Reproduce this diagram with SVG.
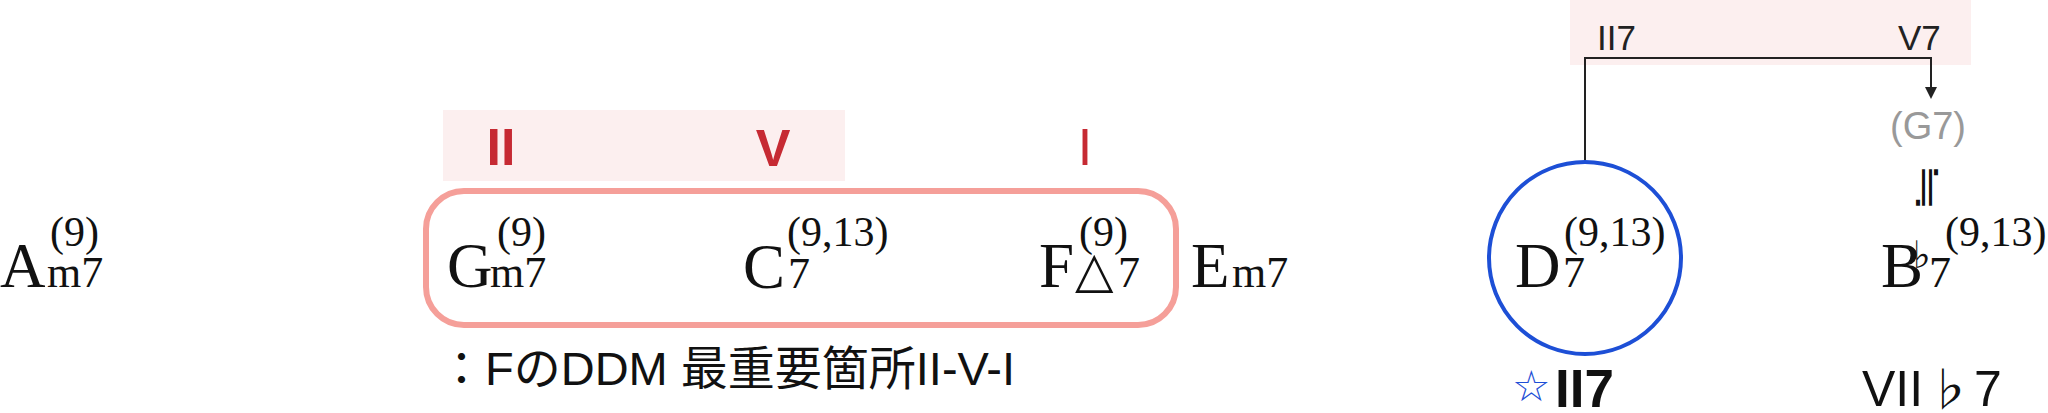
<svg xmlns="http://www.w3.org/2000/svg" width="2048" height="413" viewBox="0 0 2048 413">
<style>
.root{font-family:"Liberation Serif","Times New Roman",serif;font-size:63px;fill:#111}
.sub{font-family:"Liberation Serif","Times New Roman",serif;font-size:44px;fill:#111}
.sup{font-family:"Liberation Serif","Times New Roman",serif;font-size:42px;fill:#111}
.deg{font-family:"Liberation Sans",Arial,sans-serif;font-size:52px;fill:#c62a33;text-anchor:middle}
.band{fill:#fcefef}
.lbl{font-family:"Liberation Sans",Arial,sans-serif;font-size:35px;fill:#222}
.conn{fill:none;stroke:#222;stroke-width:2}
</style>
<defs>
<marker id="arr" markerWidth="12" markerHeight="12" refX="10" refY="6" orient="auto" markerUnits="userSpaceOnUse">
<path d="M0,0 L12,6 L0,12 Z" fill="#222"/>
</marker>
</defs>
<rect width="2048" height="413" fill="#fff"/>

<g id="bands">
<rect class="band" x="443" y="110" width="402" height="71"/>
<rect class="band" x="1570" y="0" width="401" height="65"/>
</g>

<g id="degree-labels">
<text class="deg" x="501" y="165" font-weight="bold">II</text>
<text class="deg" x="773" y="166" font-weight="bold">V</text>
<text class="deg" x="1085" y="165" fill="#b8333d">I</text>
</g>

<g id="ii-v-i-box">
<rect x="426" y="191" width="750" height="134" rx="38" ry="38" fill="none" stroke="#f59f99" stroke-width="6"/>
</g>

<g id="chord-Am7">
<text class="root" x="0" y="287">A</text>
<text class="sub" x="47" y="287">m7</text>
<text class="sup" x="50" y="246">(9)</text>
</g>

<g id="chord-Gm7">
<text class="root" x="447" y="287">G</text>
<text class="sub" x="490" y="287">m7</text>
<text class="sup" x="497" y="246">(9)</text>
</g>

<g id="chord-C7">
<text class="root" x="743" y="288">C</text>
<text class="sub" x="788" y="288">7</text>
<text class="sup" x="787" y="246">(9,13)</text>
</g>

<g id="chord-FM7">
<text class="root" x="1039" y="287">F</text>
<text x="1075" y="287" font-family="DejaVu Sans,sans-serif" font-size="50" fill="#111">△</text>
<text class="sub" x="1118" y="287">7</text>
<text class="sup" x="1079" y="246">(9)</text>
</g>

<g id="chord-Em7">
<text class="root" x="1191" y="287">E</text>
<text class="sub" x="1232" y="287">m7</text>
</g>

<g id="note">
<text x="438" y="385" font-family="'Liberation Sans','Noto Sans CJK JP',sans-serif" font-size="47" fill="#111">：FのDDM 最重要箇所II-V-I</text>
</g>

<g id="connectors">
<path class="conn" d="M1585,160 V58 H1931 V97" marker-end="url(#arr)"/>
</g>

<g id="label-II7">
<text class="lbl" x="1597" y="50">II7</text>
</g>
<g id="label-V7">
<text class="lbl" x="1898" y="50">V7</text>
</g>

<g id="chord-D7">
<circle cx="1585" cy="258" r="96" fill="none" stroke="#1d4fd6" stroke-width="4"/>
<text class="root" x="1515" y="287">D</text>
<text class="sub" x="1563" y="287">7</text>
<text class="sup" x="1564" y="246">(9,13)</text>
</g>

<g id="chord-G7">
<text x="1928" y="139" font-family="'Liberation Sans',Arial,sans-serif" font-size="38" fill="#999" text-anchor="middle">(G7)</text>
</g>

<g id="approx">
<text x="0" y="0" font-family="'Noto Sans CJK JP',sans-serif" font-size="58" fill="#111" text-anchor="middle" transform="translate(1929,187) rotate(90) scale(1,0.6) translate(0,21)">≒</text>
</g>

<g id="chord-Bb7">
<text class="root" x="1881" y="287">B</text>
<text x="1913" y="268" font-family="'DejaVu Sans',sans-serif" font-size="38" fill="#111">♭</text>
<text class="sub" x="1929" y="287">7</text>
<text class="sup" x="1945" y="246">(9,13)</text>
</g>

<g id="func-D7">
<text x="1512" y="401" font-family="'DejaVu Sans',sans-serif" font-size="43" fill="#1d4fd6">☆</text>
<text x="1555" y="407" font-family="'Liberation Sans',Arial,sans-serif" font-size="53" font-weight="bold" fill="#111">II7</text>
</g>

<g id="func-Bb7">
<text x="1862" y="406" font-family="'Liberation Sans',Arial,sans-serif" font-size="50" fill="#111">VII</text>
<text x="1926" y="406" font-family="'Noto Sans CJK JP',sans-serif" font-size="46" fill="#111">♭</text>
<text x="1974" y="406" font-family="'Liberation Sans',Arial,sans-serif" font-size="50" fill="#111">7</text>
</g>
</svg>
